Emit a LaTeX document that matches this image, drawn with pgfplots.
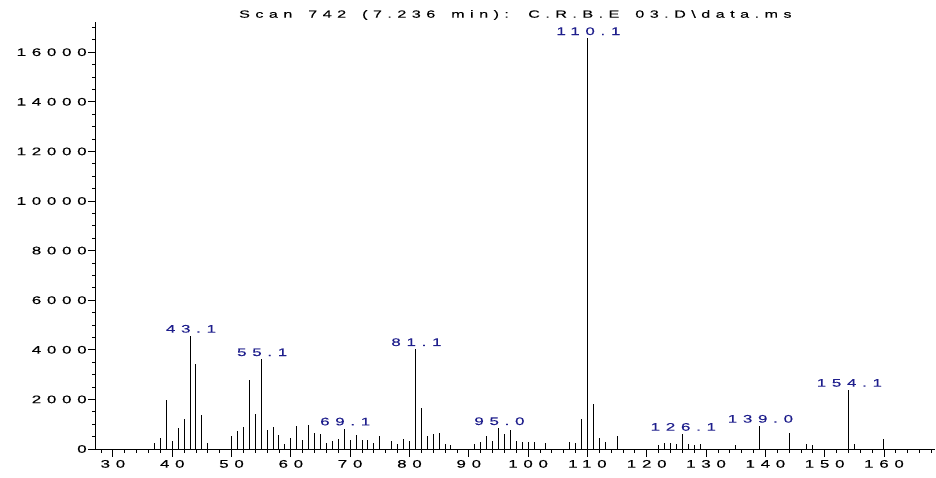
\documentclass[border=0pt]{standalone}
\usepackage{fontspec}
\setmainfont{Liberation Sans}[FakeStretch=1.55,LetterSpace=52,WordSpace=1.6,FakeBold=0.3]
\usepackage{pgfplots}
\pgfplotsset{compat=1.18}
\definecolor{lbl}{RGB}{30,30,140}
\begin{document}
\begin{tikzpicture}
\useasboundingbox (-95.7bp,-29bp) rectangle (840.3bp,449bp);
\begin{axis}[
  at={(0,0)}, anchor=south west,
  scale only axis, width=839.3bp, height=427.3bp,
  xmin=27.1, xmax=168.6, ymin=0, ymax=17230,
  axis x line*=bottom, axis y line*=left,
  xtick={30,40,...,160}, minor xtick={28,30,...,168},
  ytick={0,2000,...,16000}, minor ytick={500,1000,...,17000},
  tick align=outside, major tick length=7.5bp, minor tick length=3.5bp,
  every tick/.style={black, line width=0.8bp},
  axis line style={black, line width=0.8bp},
  /pgf/number format/assume math mode=true,
  scaled y ticks=false,
  yticklabel style={/pgf/number format/1000 sep={}, xshift=2bp},
  ticklabel style={font=\fontsize{11}{13}\selectfont},
  clip=false,
]
\addplot[ycomb, black, line width=1bp, mark=none] coordinates {
(37,255) (38,430) (39,1990) (40,320) (41,850) (42,1210) (43,4560) (44,3410) (45,1385) (46,240)
(50,510) (51,740) (52,900) (53,2780) (54,1425) (55,3615) (56,765) (57,900) (58,580) (59,215)
(60,445) (61,930) (62,365) (63,970) (64,630) (65,620) (66,255) (67,310) (68,400) (69,820)
(70,365) (71,565) (72,350) (73,350) (74,255) (75,525) (77,310) (78,200) (79,390) (80,310)
(81,4020) (82,1640) (83,525) (84,605) (85,645) (86,215) (87,160)
(91,190) (92,295) (93,510) (94,310) (95,835) (96,605) (97,750) (98,320) (99,295) (100,270)
(101,270) (103,230) (107,280) (108,240) (109,1195) (110,16560) (111,1815) (112,445) (113,280) (115,510)
(122,175) (123,255) (124,230) (125,205) (126,605) (127,205) (128,175) (129,205)
(135,175) (139,930) (144,645) (147,190) (148,175) (154,2380) (155,215) (160,400)
};
\node[anchor=base, font=\fontsize{10.5}{12}\selectfont] at ([yshift=4bp]rel axis cs:0.5,1) {Scan 742 (7.236 min): C.R.B.E 03.D\textbackslash data.ms};
\begin{scope}[every node/.style={anchor=south, text=lbl, inner sep=0pt, yshift=3bp, xshift=1bp, font=\fontsize{11}{13}\selectfont}]
\node at (axis cs:43,4560) {43.1};
\node at (axis cs:55,3615) {55.1};
\node at (axis cs:69,820) {69.1};
\node at (axis cs:81,4020) {81.1};
\node at (axis cs:95,835) {95.0};
\node at (axis cs:110,16560) {110.1};
\node at (axis cs:126,605) {126.1};
\node at (axis cs:139,930) {139.0};
\node at (axis cs:154,2380) {154.1};
\end{scope}
\end{axis}
\end{tikzpicture}
\end{document}
